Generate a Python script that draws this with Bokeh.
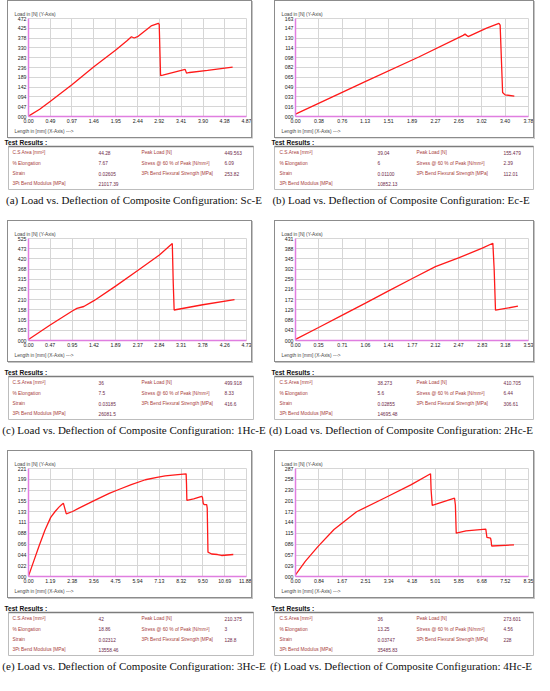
from bokeh.plotting import figure
from bokeh.layouts import column, row
from bokeh.models import Range1d, FixedTicker, Title, Spacer
from bokeh.core.properties import value
from bokeh.embed import file_html
from bokeh.resources import INLINE

# ---------------- data ----------------
a_x = [0.00, 0.25, 0.49, 0.97, 1.46, 1.95, 2.20, 2.30, 2.36, 2.45, 2.74, 2.90, 2.92, 2.95, 3.00, 3.50, 3.53, 3.60, 4.00, 4.56]
a_y = [2, 35, 73, 153, 240, 320, 365, 384, 378, 386, 436, 449, 444, 197, 199, 227, 209, 212, 222, 238]
a_xt = ["0.00", "0.49", "0.97", "1.46", "1.95", "2.44", "2.92", "3.41", "3.90", "4.38", "4.87"]
a_yt = ["000", "047", "094", "142", "189", "236", "283", "330", "378", "425", "472"]

b_x = [0.00, 1.13, 2.00, 2.72, 2.75, 2.80, 3.10, 3.30, 3.32, 3.36, 3.40, 3.55]
b_y = [4, 58, 99, 135, 137, 133, 147, 155, 152, 40, 36, 34]
b_xt = ["0.00", "0.38", "0.76", "1.13", "1.51", "1.89", "2.27", "2.65", "3.02", "3.40", "3.78"]
b_yt = ["000", "016", "033", "049", "065", "082", "098", "114", "130", "147", "163"]

c_x = [0.00, 0.47, 0.95, 1.05, 1.20, 1.42, 1.89, 2.37, 2.84, 3.12, 3.14, 3.16, 3.78, 4.47]
c_y = [5, 80, 152, 165, 175, 205, 280, 360, 440, 499, 300, 157, 184, 210]
c_xt = ["0.00", "0.47", "0.95", "1.42", "1.89", "2.37", "2.84", "3.31", "3.78", "4.26", "4.73"]
c_yt = ["000", "053", "105", "158", "210", "263", "315", "368", "420", "473", "525"]

d_x = [0.00, 0.35, 0.71, 1.06, 1.41, 1.77, 2.12, 2.47, 2.83, 2.99, 3.01, 3.03, 3.37]
d_y = [5, 55, 107, 158, 210, 262, 312, 349, 390, 411, 300, 128, 145]
d_xt = ["0.00", "0.35", "0.71", "1.06", "1.41", "1.77", "2.12", "2.47", "2.83", "3.18", "3.53"]
d_yt = ["000", "043", "086", "129", "172", "216", "259", "302", "345", "388", "431"]

e_x = [0.00, 0.30, 0.58, 0.90, 1.21, 1.45, 1.66, 1.80, 1.90, 2.06, 2.40, 2.75, 3.30, 3.83, 4.40, 4.92, 5.60, 6.37, 7.00, 7.45, 8.00, 8.59, 8.61, 8.63, 9.00, 9.44, 9.48, 9.52, 9.57, 9.71, 9.74, 9.78, 9.98, 10.30, 10.52, 11.16]
e_y = [1, 33, 63, 95, 121, 133, 142, 147, 150, 128, 133, 140, 150, 160, 170, 178, 188, 198, 203, 206, 208, 210, 190, 156, 159, 164, 162, 150, 147, 147, 140, 50, 46, 45, 43, 45]
e_xt = ["0.00", "1.19", "2.38", "3.56", "4.75", "5.94", "7.13", "8.32", "9.50", "10.69", "11.88"]
e_yt = ["000", "022", "044", "066", "088", "111", "133", "155", "177", "199", "221"]

f_x = [0.00, 0.35, 0.81, 1.38, 2.19, 3.23, 4.15, 4.84, 4.86, 4.90, 5.70, 5.73, 5.76, 6.11, 6.82, 6.84, 6.86, 6.99, 7.01, 7.03, 7.83]
f_y = [4, 40, 80, 125, 172, 210, 244, 273, 230, 189, 208, 190, 115, 121, 126, 115, 104, 102, 95, 81, 84]
f_xt = ["0.00", "0.84", "1.67", "2.51", "3.34", "4.18", "5.01", "5.85", "6.68", "7.52", "8.35"]
f_yt = ["000", "029", "057", "086", "115", "144", "172", "201", "230", "258", "287"]

left_labels = ["C.S.Area [mm²]", "% Elongation", "Strain", "3Pt Bend Modulus [MPa]"]
right_labels = ["Peak Load [N]", "Stress @ 60 % of Peak [N/mm²]", "3Pt Bend Flexural Strength [MPa]"]

a_left = ["44.28", "7.67", "0.02605", "21017.39"]
a_right = ["449.563", "6.09", "253.82"]
b_left = ["39.04", "6", "0.01100", "10852.13"]
b_right = ["155.479", "2.39", "112.01"]
c_left = ["36", "7.5", "0.03185", "26081.5"]
c_right = ["499.918", "8.33", "416.6"]
d_left = ["38.273", "5.6", "0.02855", "14695.48"]
d_right = ["410.705", "6.44", "306.61"]
e_left = ["42", "18.86", "0.02312", "13558.46"]
e_right = ["210.375", "3", "128.8"]
f_left = ["36", "13.25", "0.03747", "35485.83"]
f_right = ["273.601", "4.56", "228"]

captions = [
    "(a) Load vs. Deflection of Composite Configuration: Sc-E",
    "(b) Load vs. Deflection of Composite Configuration: Ec-E",
    "(c) Load vs. Deflection of Composite Configuration: 1Hc-E",
    "(d) Load vs. Deflection of Composite Configuration: 2Hc-E",
    "(e) Load vs. Deflection of Composite Configuration: 3Hc-E",
    "(f) Load vs. Deflection of Composite Configuration: 4Hc-E",
]

y_title = "Load in [N]  (Y-Axis)"
x_title = "Length in [mm]  (X-Axis) --->"

# ---------------- styling ----------------
SANS = "Liberation Sans"
AXIS_COL = "#e07ee0"
GRID_COL = "#d6d6d6"
RED = "#ff1a1a"
LAB_COL = "#a8403c"
VAL_COL = "#6e2a4a"

PANEL_W = 267
TABLE_H = 52
TXT = "4.8px"

# per-row vertical geometry: (gap above chart, chart height, gap above table, caption height)
ROW_GEOM = [(0, 138, 0, 24), (6, 142, 6, 22), (8, 148, 6, 19)]


def chart(xs, ys, xt, yt, w, h):
    xticks = [float(t) for t in xt]
    yticks = [float(t) for t in yt]
    p = figure(width=w, height=h,
               x_range=Range1d(0, xticks[-1]), y_range=Range1d(0, yticks[-1]),
               output_backend="svg", toolbar_location=None,
               min_border_left=20, min_border_right=7, min_border_top=17, min_border_bottom=23,
               background_fill_color="white", border_fill_color="white",
               outline_line_color=GRID_COL,
               styles={"border": "1px solid #8c8c8c", "box-shadow": "1px 1px 0 #c4c4c4"})
    p.title.text = y_title
    p.title.text_font = SANS
    p.title.text_font_size = "4.8px"
    p.title.text_font_style = "normal"
    p.title.align = "left"
    p.title.offset = -14
    p.title.standoff = 3
    p.add_layout(Title(text=x_title, align="left", text_font=SANS, text_font_size="4.8px",
                       text_font_style="normal", offset=-14, standoff=2), "below")
    p.xaxis.ticker = FixedTicker(ticks=xticks)
    p.yaxis.ticker = FixedTicker(ticks=yticks)
    p.xgrid.ticker = FixedTicker(ticks=xticks)
    p.ygrid.ticker = FixedTicker(ticks=yticks)
    p.xaxis.major_label_overrides = {v: s for v, s in zip(xticks, xt)}
    p.yaxis.major_label_overrides = {v: s for v, s in zip(yticks, yt)}
    for ax in (p.xaxis, p.yaxis):
        ax.axis_line_color = AXIS_COL
        ax.axis_line_width = 1.5
        ax.major_tick_line_color = None
        ax.minor_tick_line_color = None
        ax.major_tick_out = 0
        ax.major_tick_in = 0
        ax.major_label_standoff = 2
        ax.major_label_text_font = SANS
        ax.major_label_text_font_size = "5.2px"
        ax.major_label_text_color = "#222222"
    p.grid.grid_line_color = GRID_COL
    p.grid.grid_line_width = 1
    p.line(xs, ys, line_color=RED, line_width=1.3)
    return p


def table(lv, rv, cols, box, labs):
    t = figure(width=PANEL_W, height=TABLE_H,
               x_range=Range1d(0, PANEL_W), y_range=Range1d(TABLE_H, 0),
               output_backend="svg", toolbar_location=None, min_border=0,
               outline_line_color=None, background_fill_color="white", border_fill_color="white")
    t.xaxis.visible = False
    t.yaxis.visible = False
    t.grid.visible = False
    t.quad(left=[box[0]], right=[box[1]], top=[8], bottom=[TABLE_H - 1],
           fill_color="white", line_color="#bdbdbd", line_width=1)
    t.segment(x0=[box[0]], y0=[8], x1=[box[1]], y1=[8], line_color="#7c7c7c", line_width=1.6)
    t.text(x=[4], y=[4], text=["Test Results :"], text_font=value(SANS), text_font_size="6.6px",
           text_font_style="bold", text_baseline="middle", text_color="#111111")
    rows_y = [14, 24.5, 35, 45]
    t.text(x=[cols[0]] * 4, y=rows_y, text=labs, text_font=value(SANS), text_font_size=TXT,
           text_baseline="middle", text_color=LAB_COL)
    t.text(x=[cols[1]] * 4, y=rows_y, text=lv, text_font=value(SANS), text_font_size=TXT,
           text_baseline="middle", text_color=VAL_COL)
    t.text(x=[cols[2]] * 3, y=rows_y[:3], text=right_labels, text_font=value(SANS), text_font_size=TXT,
           text_baseline="middle", text_color=LAB_COL)
    t.text(x=[cols[3]] * 3, y=rows_y[:3], text=rv, text_font=value(SANS), text_font_size=TXT,
           text_baseline="middle", text_color=VAL_COL)
    return t


def caption(txt, h):
    c = figure(width=PANEL_W, height=h,
               x_range=Range1d(0, PANEL_W), y_range=Range1d(h, 0),
               output_backend="svg", toolbar_location=None, min_border=0,
               outline_line_color=None, background_fill_color="white", border_fill_color="white")
    c.xaxis.visible = False
    c.yaxis.visible = False
    c.grid.visible = False
    c.text(x=[PANEL_W / 2], y=[9], text=[txt], text_font=value("Liberation Serif"),
           text_font_size="11px", text_align="center", text_baseline="middle", text_color="#111111")
    return c


LEFT_COLS = [12, 98, 141, 224]
RIGHT_COLS = [12, 110, 149, 236]
LEFT_BOX = [8, 253]
RIGHT_BOX = [7, 266]


def panel(xs, ys, xt, yt, lv, rv, cap, left, geom):
    gap_top, ch_h, gap_mid, cap_h = geom
    items = []
    if gap_top:
        items.append(Spacer(width=PANEL_W, height=gap_top))
    if left:
        ch = chart(xs, ys, xt, yt, 245, ch_h)
        tb = table(lv, rv, LEFT_COLS, LEFT_BOX,
                   ["C.S Area [mm²]"] + left_labels[1:] if lv is a_left else left_labels)
    else:
        ch = chart(xs, ys, xt, yt, 260, ch_h)
        tb = table(lv, rv, RIGHT_COLS, RIGHT_BOX, left_labels)
    items.append(row(Spacer(width=7, height=ch_h), ch))
    if gap_mid:
        items.append(Spacer(width=PANEL_W, height=gap_mid))
    items.append(tb)
    items.append(caption(cap, cap_h))
    return column(*items)


pa = panel(a_x, a_y, a_xt, a_yt, a_left, a_right, captions[0], True, ROW_GEOM[0])
pb = panel(b_x, b_y, b_xt, b_yt, b_left, b_right, captions[1], False, ROW_GEOM[0])
pc = panel(c_x, c_y, c_xt, c_yt, c_left, c_right, captions[2], True, ROW_GEOM[1])
pd = panel(d_x, d_y, d_xt, d_yt, d_left, d_right, captions[3], False, ROW_GEOM[1])
pe = panel(e_x, e_y, e_xt, e_yt, e_left, e_right, captions[4], True, ROW_GEOM[2])
pf = panel(f_x, f_y, f_xt, f_yt, f_left, f_right, captions[5], False, ROW_GEOM[2])

layout = column(row(pa, pb), row(pc, pd), row(pe, pf))

open("out.html", "w").write(file_html(layout, INLINE))
